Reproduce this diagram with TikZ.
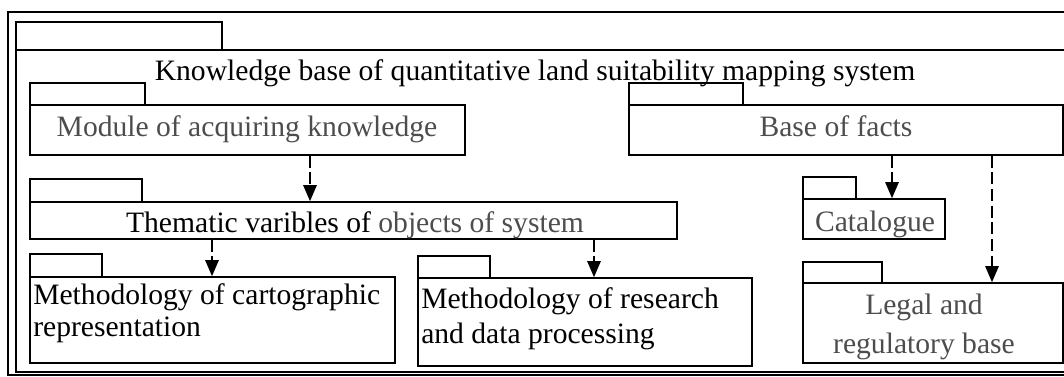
\documentclass[tikz,border=0pt]{standalone}
\usepackage{fontspec}
\setmainfont{Liberation Serif}
\usetikzlibrary{arrows.meta,fit,positioning}
\definecolor{pkggray}{HTML}{4D4D4D}

\begin{document}
\begin{tikzpicture}[x=0.75pt,y=-0.75pt,
  pkg/.style={draw, line width=1.2pt, inner sep=0pt},
  tab/.style={draw, line width=1.2pt},
  dep/.style={line width=1.2pt, dash pattern=on 9pt off 3.5pt, -{Triangle[width=10pt,length=12pt]}},
  lbl/.style={font=\fontsize{22.2}{26}\selectfont, inner sep=0pt}]
\clip (0,0) rectangle (1064,376);
% outer frame
\draw[line width=1.2pt] (8,12) rectangle (1090,375);

% Knowledge base
\draw[tab] (16,22) rectangle (222,50);
\node[pkg, fit={(16,50) (1080,372)}] (kb) {};
\node[lbl, anchor=base] (kbtxt) at (535,80) {Knowledge base of quantitative land suitability mapping system};

% Module of acquiring knowledge
\draw[tab] (30,83) rectangle (145,105);
\node[pkg, fit={(30,105) (465,155)}] (mod) {};
\node[lbl, anchor=base, text=pkggray] (modtxt) at (247,136) {Module of acquiring knowledge};

% Base of facts
\draw[tab] (629,83) rectangle (743,105);
\node[pkg, fit={(629,105) (1063,155)}] (facts) {};
\node[lbl, anchor=base, text=pkggray] (factstxt) at (836,136) {Base of facts};

% Thematic varibles
\draw[tab] (30,179) rectangle (142,202);
\node[pkg, fit={(30,202) (677,239)}] (thm) {};
\node[lbl, anchor=base] (thmtxt) at (355,232) {Thematic varibles of \textcolor{pkggray}{objects of system}};

% Catalogue
\draw[tab] (803,177) rectangle (856,199);
\node[pkg, fit={(803,199) (945,239)}] (cat) {};
\node[lbl, anchor=base, text=pkggray] (cattxt) at (875,231) {Catalogue};

% Methodology of cartographic representation
\draw[tab] (30,254) rectangle (102,277);
\node[pkg, fit={(30,277) (395,363)}] (cart) {};
\node[lbl, anchor=base west] (carta) at (33,304) {Methodology of cartographic};
\node[lbl, anchor=base west] (cartb) at (33,336) {representation};

% Methodology of research
\draw[tab] (418,256) rectangle (490,278);
\node[pkg, fit={(418,278) (752,366)}] (res) {};
\node[lbl, anchor=base west] (resa) at (421,308) {Methodology of research};
\node[lbl, anchor=base west] (resb) at (421,343) {and data processing};

% Legal and regulatory base
\draw[tab] (803,262) rectangle (882,283);
\node[pkg, fit={(803,283) (1063,363)}] (legal) {};
\node[lbl, anchor=base, text=pkggray] (legala) at (924,314) {Legal and};
\node[lbl, anchor=base, text=pkggray] (legalb) at (924,353) {regulatory base};

% dependencies
\coordinate (d1) at (310,0);
\coordinate (d2) at (212,0);
\coordinate (d3) at (594,0);
\coordinate (d4) at (892,0);
\coordinate (d5) at (992,0);
\draw[dep] (mod.south -| d1) -- (thm.north -| d1);
\draw[dep] (thm.south -| d2) -- (cart.north -| d2);
\draw[dep] (thm.south -| d3) -- (res.north -| d3);
\draw[dep] (facts.south -| d4) -- (cat.north -| d4);
\draw[dep] (facts.south -| d5) -- (legal.north -| d5);
\end{tikzpicture}
\end{document}
